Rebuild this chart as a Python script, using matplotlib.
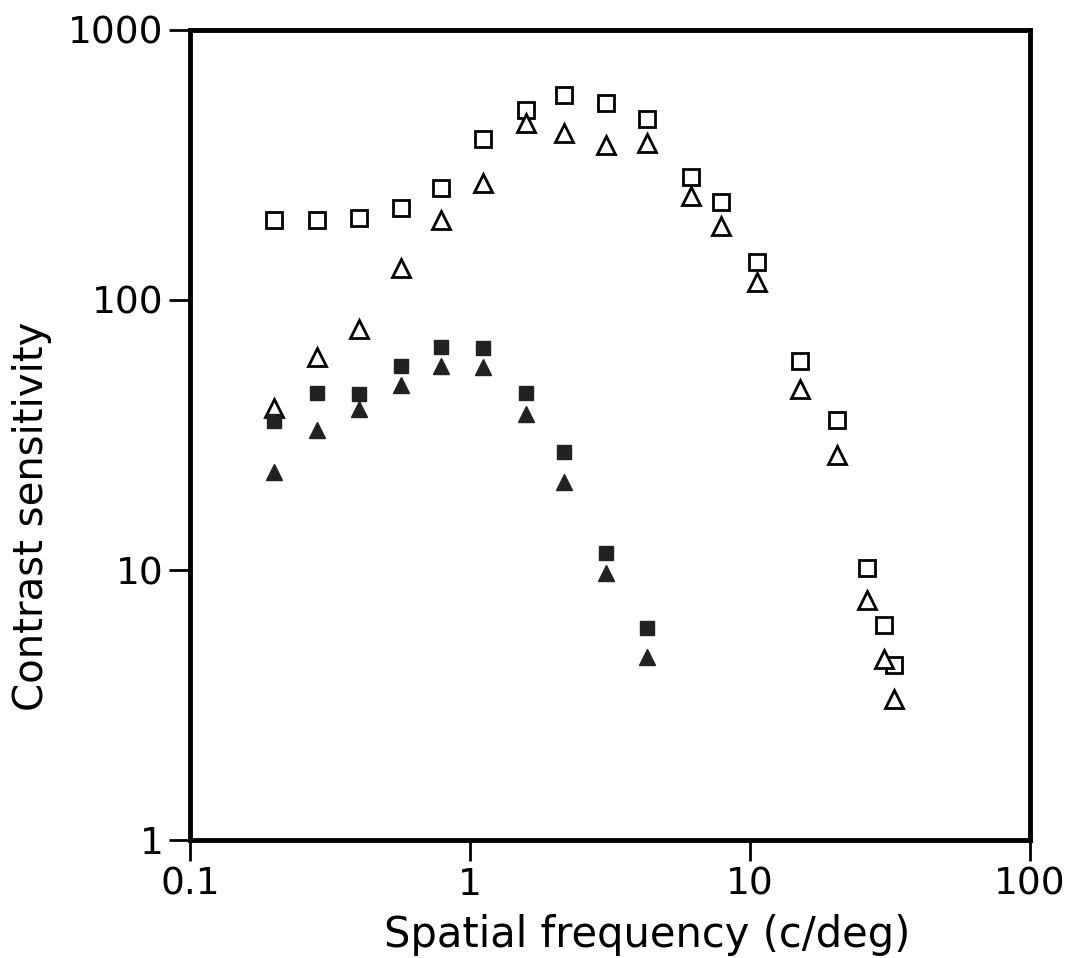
import matplotlib
matplotlib.use("Agg")
import matplotlib.pyplot as plt

# spatial frequency (c/deg)
freq = [0.20, 0.283, 0.40, 0.566, 0.79, 1.11, 1.59, 2.17, 3.07, 4.31,
        6.15, 7.87, 10.6, 15.1, 20.5, 26.2, 30.2, 32.8]

open_sq = [198, 197, 201, 219, 260, 395, 505, 575, 537, 468,
           286, 231, 138, 59.4, 35.9, 10.2, 6.26, 4.45]
open_tri = [39.8, 61.5, 78.1, 131, 198, 271, 452, 415, 375, 381,
            243, 188, 116, 46.8, 26.7, 7.74, 4.68, 3.33]

# filled symbols stop at 4.3 c/deg
freq_f = freq[:10]
fill_sq = [35.6, 45.2, 44.9, 57, 67, 66.4, 45.2, 27.4, 11.6, 6.1]
fill_tri = [23.1, 33, 39.5, 48.4, 57, 56.5, 37.8, 21.2, 9.75, 4.76]

plt.rcParams['font.family'] = ['DejaVu Sans']

fig = plt.figure(figsize=(10.68, 9.58), dpi=100)
ax = fig.add_axes([0.178, 0.123, 0.786, 0.846])

ax.plot(freq, open_sq, 's', ms=12, mfc='white', mec='black', mew=2, ls='none')
ax.plot(freq, open_tri, '^', ms=13, mfc='white', mec='black', mew=2, ls='none')
ax.plot(freq_f, fill_sq, 's', ms=10, color='#222222', ls='none')
ax.plot(freq_f, fill_tri, '^', ms=11, color='#222222', ls='none')

ax.set_xscale('log')
ax.set_yscale('log')
ax.set_xlim(0.1, 100)
ax.set_ylim(1, 1000)
ax.set_xticks([0.1, 1, 10, 100])
ax.set_xticklabels(['0.1', '1', '10', '100'])
ax.set_yticks([1, 10, 100, 1000])
ax.set_yticklabels(['1', '10', '100', '1000'])
ax.minorticks_off()
ax.tick_params(direction='out', length=15, width=2, labelsize=27, pad=4)
for s in ax.spines.values():
    s.set_linewidth(3.5)

ax.set_xlabel('Spatial frequency (c/deg)', fontsize=30, labelpad=8)
ax.set_ylabel('Contrast sensitivity', fontsize=29, labelpad=12)
ax.xaxis.label.set_x(0.545)
ax.yaxis.label.set_y(0.40)

fig.savefig('out.png', dpi=100)
